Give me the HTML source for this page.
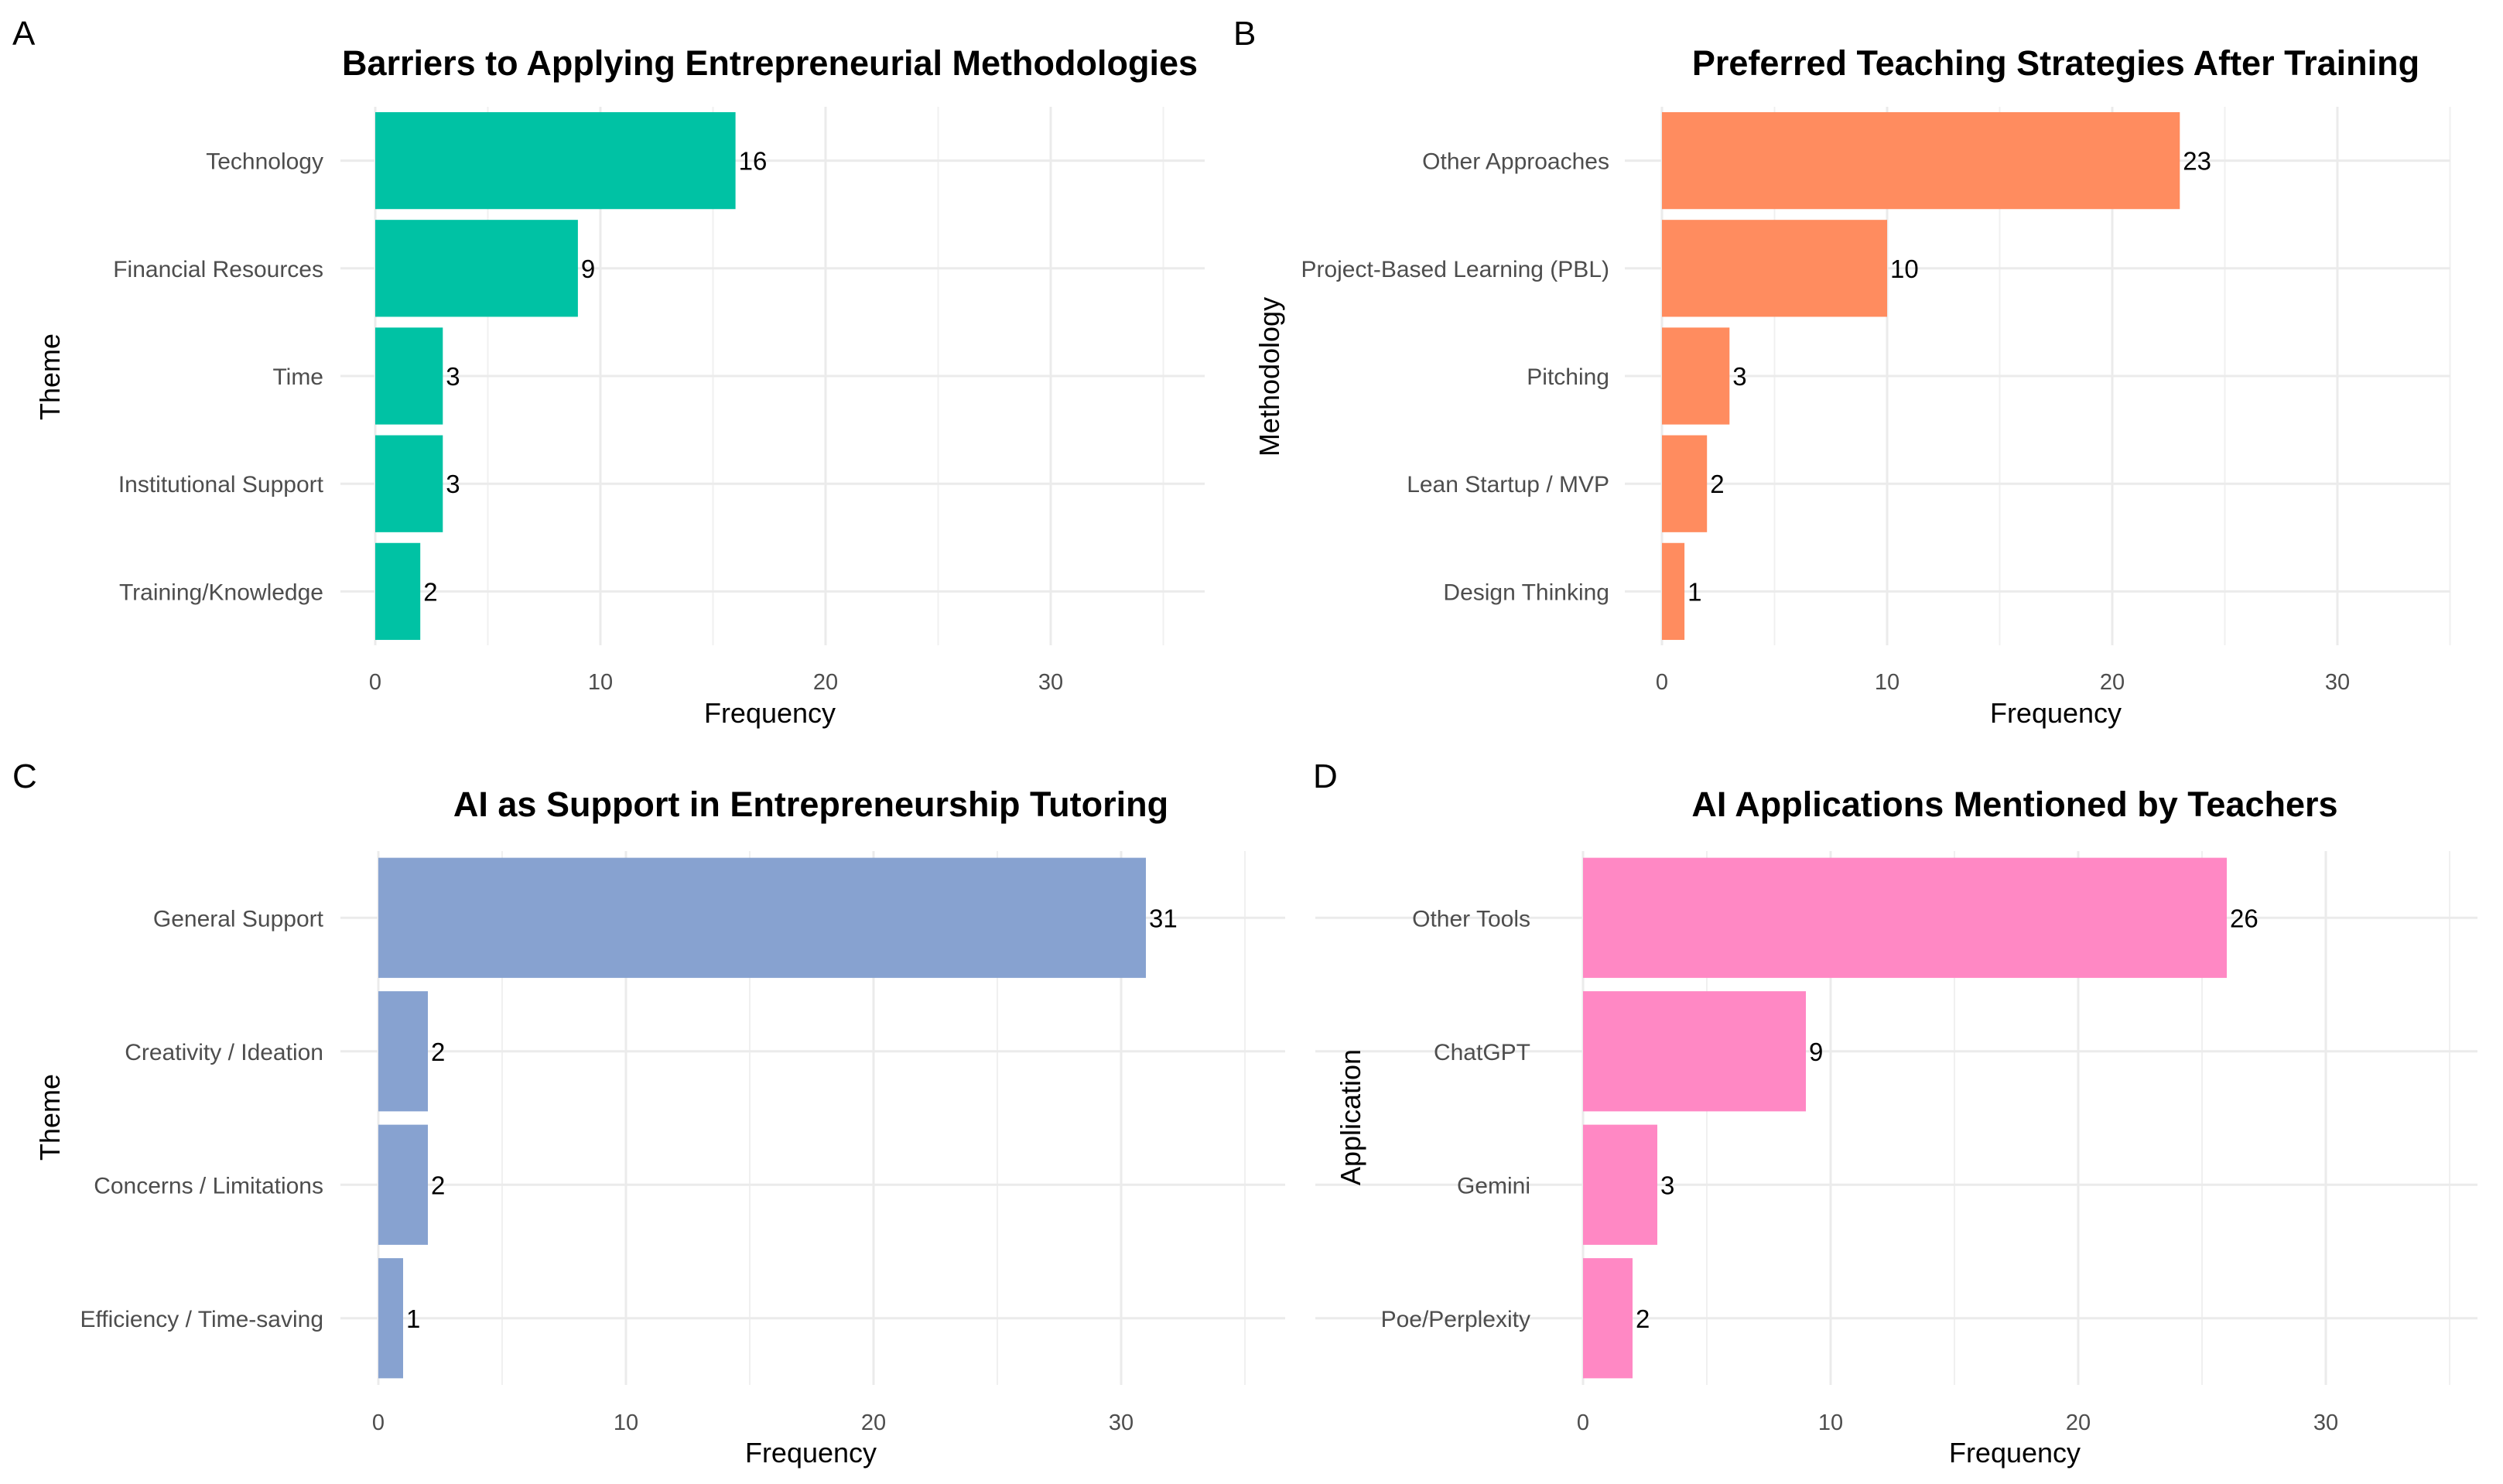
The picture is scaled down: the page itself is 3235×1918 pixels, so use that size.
<!DOCTYPE html>
<html><head><meta charset="utf-8"><style>
html,body{margin:0;padding:0;background:#fff}
svg{display:block}
text{font-family:"Liberation Sans",sans-serif}
</style></head><body>
<svg id="fig" width="3235" height="1918" viewBox="0 0 3235 1918" xmlns="http://www.w3.org/2000/svg"></svg>
<script>
const catsA=["Technology","Financial Resources","Time","Institutional Support","Training/Knowledge"];
const valsA=[16,9,3,3,2];
const catsB=["Other Approaches","Project-Based Learning (PBL)","Pitching","Lean Startup / MVP","Design Thinking"];
const valsB=[23,10,3,2,1];
const catsC=["General Support","Creativity / Ideation","Concerns / Limitations","Efficiency / Time-saving"];
const valsC=[31,2,2,1];
const catsD=["Other Tools","ChatGPT","Gemini","Poe/Perplexity"];
const valsD=[26,9,3,2];
const xTicks=[0,10,20,30];
const xMinor=[5,15,25,35];

const NS="http://www.w3.org/2000/svg";
const svg=document.getElementById('fig');
function mk(tag,attrs,parent,txt){const e=document.createElementNS(NS,tag);for(const k in attrs)e.setAttribute(k,attrs[k]);if(txt!==undefined)e.textContent=txt;parent.appendChild(e);return e;}

function panel(cfg,cats,vals){
  const g=mk('g',{},svg);
  
  
  const x=v=>cfg.x0+v*cfg.unit;
  const n=cats.length;
  const band=(cfg.bottom-cfg.top)/n;
  const yc=i=>cfg.top+band*(i+0.5);
  xMinor.forEach(v=>{const l=mk('line',{x1:x(v),x2:x(v),y1:cfg.top,y2:cfg.bottom,stroke:'#f0f0f0','stroke-width':2},g);
    });
  xTicks.forEach(v=>{const l=mk('line',{x1:x(v),x2:x(v),y1:cfg.top,y2:cfg.bottom,stroke:'#ebebeb','stroke-width':3},g);
    });
  cats.forEach((c,i)=>{const l=mk('line',{x1:cfg.gl,x2:cfg.gr,y1:yc(i),y2:yc(i),stroke:'#ebebeb','stroke-width':3},g);
    });
  cats.forEach((c,i)=>{
    const h=band*0.9;
    const r=mk('rect',{x:x(0),y:yc(i)-h/2,width:x(vals[i])-x(0),height:h,fill:cfg.color},g);
    
    
    const vt=mk('text',{x:x(vals[i])+4,y:yc(i)+12,'font-size':33,fill:'#000'},g,String(vals[i]));
    
    const lt=mk('text',{x:cfg.labelX,y:yc(i)+11,'font-size':30,fill:'#4d4d4d','text-anchor':'end'},g,c);
    
  });
  xTicks.forEach(v=>{const t=mk('text',{x:x(v),y:cfg.tickY,'font-size':29,fill:'#4d4d4d','text-anchor':'middle'},g,String(v));
    });
  const xt=mk('text',{x:cfg.freqX,y:cfg.freqY,'font-size':36,fill:'#000','text-anchor':'middle'},g,'Frequency');
  
  const yt=mk('text',{x:0,y:0,'font-size':36,fill:'#000','text-anchor':'middle',transform:`translate(${cfg.ytX},${cfg.ytY}) rotate(-90)`},g,cfg.ytitle);
  
  const tt=mk('text',{x:cfg.titleX,y:cfg.titleY,'font-size':45,'font-weight':'bold',fill:'#000','text-anchor':'middle'},g,cfg.title);
  
  const pl=mk('text',{x:cfg.letX,y:cfg.letY,'font-size':44,fill:'#000'},g,cfg.letter);
  
}

panel({name:'panel-a',x0:485,unit:29.1,gl:440,gr:1557,top:138,bottom:834,color:'#00C2A4',labelX:418,tickY:891,freqX:995,freqY:934,ytX:77,ytY:487,ytitle:'Theme',titleX:995,titleY:97,title:'Barriers to Applying Entrepreneurial Methodologies',letX:16,letY:58,letter:'A'},catsA,valsA);
panel({name:'panel-b',x0:2148,unit:29.1,gl:2100,gr:3167,top:138,bottom:834,color:'#FF8C5F',labelX:2080,tickY:891,freqX:2657,freqY:934,ytX:1653,ytY:487,ytitle:'Methodology',titleX:2657,titleY:97,title:'Preferred Teaching Strategies After Training',letX:1594,letY:58,letter:'B'},catsB,valsB);
panel({name:'panel-c',x0:489,unit:32,gl:440,gr:1661,top:1100,bottom:1790,color:'#87A2D0',labelX:418,tickY:1848,freqX:1048,freqY:1890,ytX:77,ytY:1444,ytitle:'Theme',titleX:1048,titleY:1055,title:'AI as Support in Entrepreneurship Tutoring',letX:16,letY:1018,letter:'C'},catsC,valsC);
panel({name:'panel-d',x0:2046,unit:32,gl:1700,gr:3202,top:1100,bottom:1790,color:'#FF88C4',labelX:1978,tickY:1848,freqX:2604,freqY:1890,ytX:1758,ytY:1444,ytitle:'Application',titleX:2604,titleY:1055,title:'AI Applications Mentioned by Teachers',letX:1697,letY:1018,letter:'D'},catsD,valsD);
</script>
</body></html>
